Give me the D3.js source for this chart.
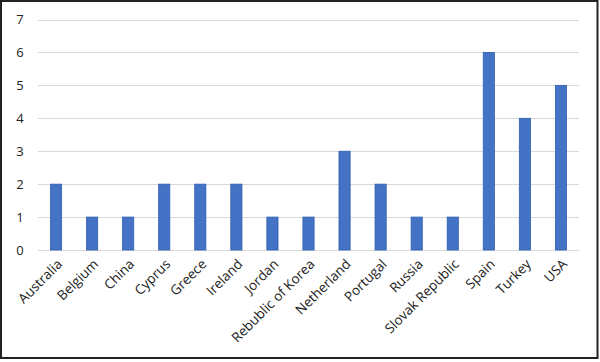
<!DOCTYPE html>
<html><head><meta charset="utf-8">
<script src="https://cdn.jsdelivr.net/npm/d3@7"></script>
<style>body{margin:0;background:#fff}svg{display:block}</style>
</head><body>
<svg id="c" width="600" height="362"></svg>
<script>
const categories = ["Australia","Belgium","China","Cyprus","Greece","Ireland","Jordan","Rebublic of Korea","Netherland","Portugal","Russia","Slovak Republic","Spain","Turkey","USA"];
const values = [2,1,1,2,2,2,1,1,3,2,1,1,6,4,5];
const yTicks = [0,1,2,3,4,5,6,7];

const svg = d3.select("#c");
const W = 600, H = 362;
const font = "'Open Sans', 'Liberation Sans', sans-serif";
svg.append("rect").attr("x",1).attr("y",1).attr("width",W-3.5).attr("height",H-5).attr("fill","#fff").attr("stroke","#222").attr("stroke-width",2);

const x = d3.scaleBand().domain(categories).range([38,579]).paddingInner(0.69).paddingOuter(0.345);
const y = d3.scaleLinear().domain([0,7]).range([250,19.5]);

const grid = svg.append("g");
grid.selectAll("line").data(yTicks).join("line")
  .attr("x1",38).attr("x2",579)
  .attr("y1",d=>Math.round(y(d))+0.5).attr("y2",d=>Math.round(y(d))+0.5)
  .attr("stroke","#d9d9d9").attr("stroke-width",1);

const yAxis = d3.axisLeft(y).tickValues(yTicks).tickFormat(d3.format("d")).tickSize(0).tickPadding(0);
const ya = svg.append("g").attr("transform","translate(20,0)").call(yAxis);
ya.select(".domain").remove();
ya.selectAll("text").attr("font-family",font).attr("font-size",13).attr("fill","#222").attr("text-anchor","middle");

svg.append("g").selectAll("rect").data(values).join("rect")
  .attr("x",(d,i)=>x(categories[i])).attr("width",x.bandwidth())
  .attr("y",d=>y(d)).attr("height",d=>y(0)-y(d))
  .attr("fill","#4472C4").attr("stroke","#2F5FB3").attr("stroke-width",0.8);

const xAxis = d3.axisBottom(x).tickSize(0).tickPadding(0);
const xa = svg.append("g").attr("transform","translate(0,250)").call(xAxis);
xa.select(".domain").remove();
xa.selectAll("text")
  .attr("font-family",font).attr("font-size",13.5).attr("fill","#222")
  .attr("text-anchor","end").attr("dy",0)
  .attr("transform","translate(7,15) rotate(-45)");
</script>
</body></html>
